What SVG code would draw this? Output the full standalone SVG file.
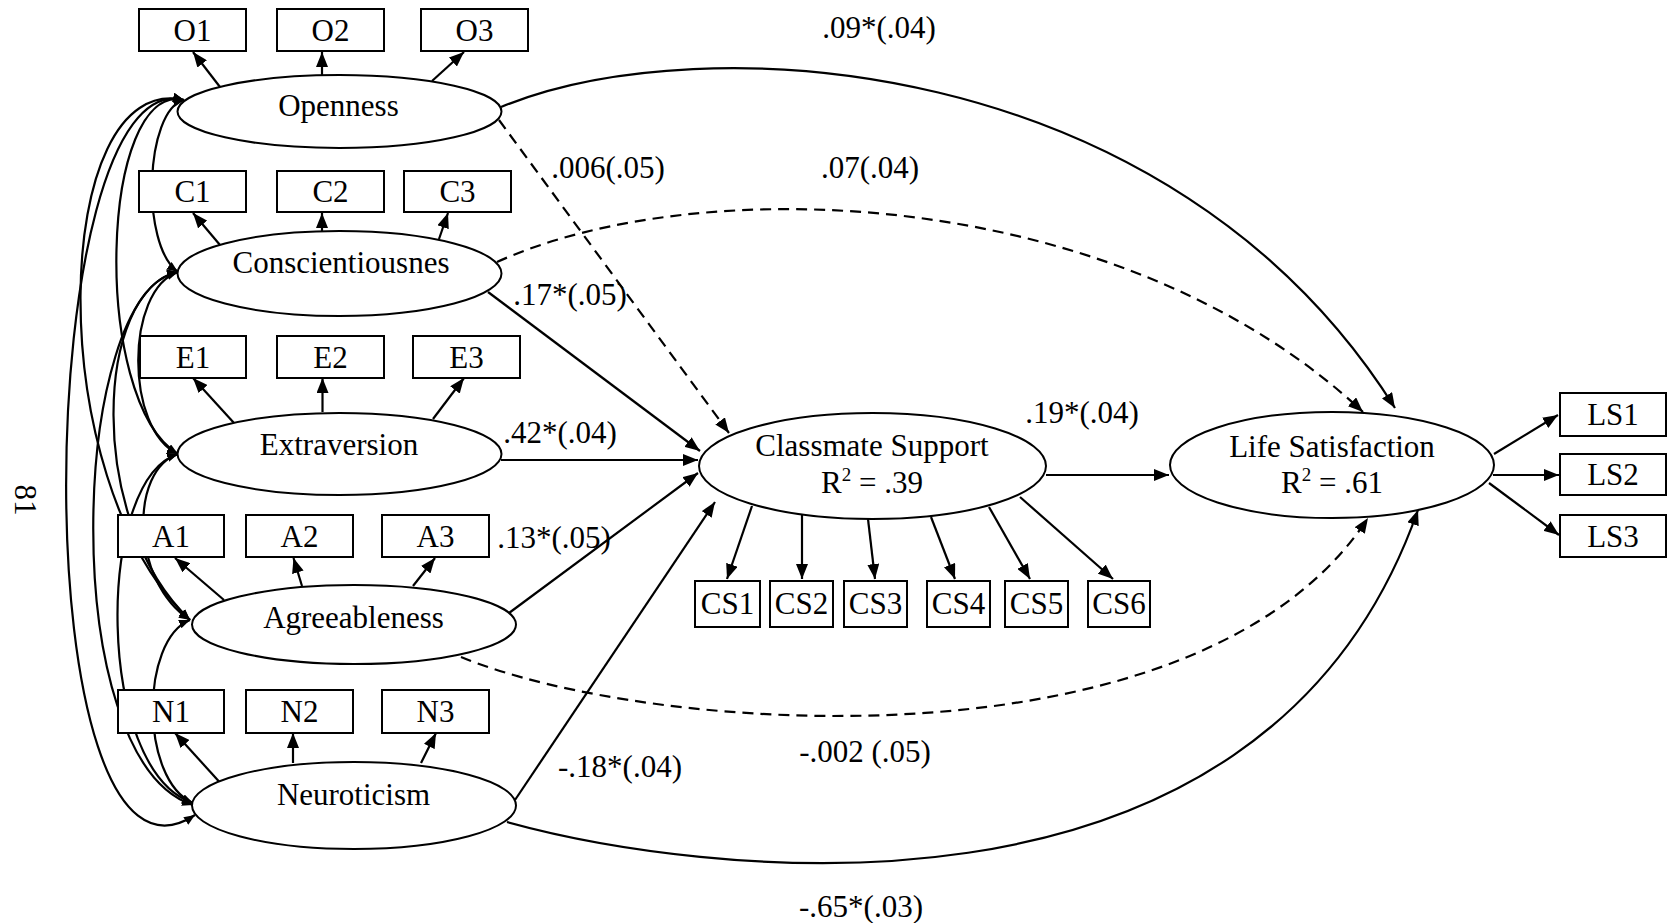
<svg xmlns="http://www.w3.org/2000/svg" width="1667" height="923" viewBox="0 0 1667 923">
<style>
text{font-family:"Liberation Serif","Times New Roman",serif;font-size:31px;fill:#000;text-anchor:middle}
.box{fill:#fff;stroke:#000;stroke-width:2}
.lat{fill:#fff;stroke:#000;stroke-width:2}
.c{fill:none;stroke:#000;stroke-width:2.2}
.d{stroke-dasharray:11 7}
.ar{marker-end:url(#ah)}
.cor{fill:none;stroke:#000;stroke-width:2.2;marker-start:url(#sh);marker-end:url(#sh)}
.sup{font-size:19px}
</style>
<defs>
<marker id="ah" markerUnits="userSpaceOnUse" markerWidth="16" markerHeight="12" refX="15" refY="6" orient="auto"><path d="M0,0 L15,6 L0,12 z" fill="#000" stroke="none"/></marker>
<marker id="sh" markerUnits="userSpaceOnUse" markerWidth="12" markerHeight="10" refX="11" refY="4.5" orient="auto-start-reverse"><path d="M0,0 L11,4.5 L0,9 z" fill="#000" stroke="none"/></marker>
</defs>
<rect width="1667" height="923" fill="#fff"/>
<g id="connectors">
<path class="cor" d="M184,100 C145,110 140,245 178,272"/>
<path class="cor" d="M184,100 C100,80 90,400 178,454"/>
<path class="cor" d="M184,100 C50,70 40,480 190,620"/>
<path class="cor" d="M184,100 C30,60 20,930 195,815"/>
<path class="cor" d="M178,272 C125,290 125,430 178,454"/>
<path class="cor" d="M178,272 C95,290 85,520 190,620"/>
<path class="cor" d="M178,272 C70,290 55,760 193,805"/>
<path class="cor" d="M178,454 C130,470 130,580 190,620"/>
<path class="cor" d="M178,454 C95,480 95,770 193,803"/>
<path class="cor" d="M190,620 C140,640 140,780 193,803"/>
<path class="c ar" d="M220,87 L193,52"/>
<path class="c ar" d="M322,75 L322,52"/>
<path class="c ar" d="M432,81 L464,52"/>
<path class="c ar" d="M220,245 L193,213"/>
<path class="c ar" d="M322,232 L322,213"/>
<path class="c ar" d="M439,239 L448,213"/>
<path class="c ar" d="M234,423 L193,378"/>
<path class="c ar" d="M322.5,412 L322.5,378"/>
<path class="c ar" d="M433,419 L464,378"/>
<path class="c ar" d="M224,600 L175,558"/>
<path class="c ar" d="M302,586 L293.5,558"/>
<path class="c ar" d="M413,586 L435,558"/>
<path class="c ar" d="M224,787 L175,733"/>
<path class="c ar" d="M293,763 L293,733"/>
<path class="c ar" d="M421,763 L436,733"/>
<path class="c ar" d="M752,506 L727,579"/>
<path class="c ar" d="M802,515 L802,579"/>
<path class="c ar" d="M868,519 L875,579"/>
<path class="c ar" d="M931,517 L955,579"/>
<path class="c ar" d="M989,507 L1030,579"/>
<path class="c ar" d="M1020,497 L1113,579"/>
<path class="c ar" d="M1494,454 L1558,415"/>
<path class="c ar" d="M1493,475 L1559,475"/>
<path class="c ar" d="M1489,483 L1559,535"/>
<path class="c ar" d="M1046,475 L1169,475"/>
<path class="c d ar" d="M499,120 L729,433"/>
<path class="c ar" d="M488,292 L700,451"/>
<path class="c ar" d="M501,460 L698,460"/>
<path class="c ar" d="M509,613 L698,473"/>
<path class="c ar" d="M515,800 L715,502"/>
<path class="c ar" d="M501,107 C700,25 1170,50 1395,408"/>
<path class="c d ar" d="M497,262 C700,170 1120,185 1363,412"/>
<path class="c d ar" d="M461,657 C650,735 1200,775 1368,518"/>
<path class="c ar" d="M507,822 C680,870 1260,960 1418,510"/>
</g>
<g id="labels">
<text x="879" y="38">.09*(.04)</text>
<text x="608" y="178">.006(.05)</text>
<text x="870" y="178">.07(.04)</text>
<text x="570" y="305">.17*(.05)</text>
<text x="560" y="443">.42*(.04)</text>
<text x="554" y="548">.13*(.05)</text>
<text x="1082" y="423">.19*(.04)</text>
<text x="865" y="762">-.002 (.05)</text>
<text x="620" y="777">-.18*(.04)</text>
<text x="861" y="917">-.65*(.03)</text>
<text transform="translate(15,500) rotate(90)">81</text>
</g>
<g id="Openness"><ellipse class="lat" cx="339.5" cy="111.5" rx="162" ry="36.5"/><text x="338.5" y="116">Openness</text></g>
<g id="Conscientiousness"><ellipse class="lat" cx="339.5" cy="273.5" rx="162" ry="42.5"/><text x="341" y="273">Conscientiousnes</text></g>
<g id="Extraversion"><ellipse class="lat" cx="339.5" cy="454" rx="162" ry="41"/><text x="339" y="455">Extraversion</text></g>
<g id="Agreeableness"><ellipse class="lat" cx="354" cy="624.5" rx="162" ry="39.5"/><text x="353.5" y="628">Agreeableness</text></g>
<g id="Neuroticism"><ellipse class="lat" cx="354" cy="805.5" rx="162" ry="43.5"/><text x="353.5" y="805">Neuroticism</text></g>
<g id="ClassmateSupport"><ellipse class="lat" cx="872.5" cy="466" rx="173.5" ry="53"/><text x="872" y="456">Classmate Support</text><text x="872" y="493">R<tspan class="sup" dy="-12">2</tspan><tspan dy="12"> = .39</tspan></text></g>
<g id="LifeSatisfaction"><ellipse class="lat" cx="1332" cy="465" rx="162" ry="53"/><text x="1332" y="457">Life Satisfaction</text><text x="1332" y="493">R<tspan class="sup" dy="-12">2</tspan><tspan dy="12"> = .61</tspan></text></g>
<g id="O1"><rect class="box" x="139" y="9" width="107" height="42"/><text x="192.5" y="40.5">O1</text></g>
<g id="O2"><rect class="box" x="277" y="9" width="107" height="42"/><text x="330.5" y="40.5">O2</text></g>
<g id="O3"><rect class="box" x="421" y="9" width="107" height="42"/><text x="474.5" y="40.5">O3</text></g>
<g id="C1"><rect class="box" x="139" y="171" width="107" height="41"/><text x="192.5" y="202">C1</text></g>
<g id="C2"><rect class="box" x="277" y="171" width="107" height="41"/><text x="330.5" y="202">C2</text></g>
<g id="C3"><rect class="box" x="404" y="171" width="107" height="41"/><text x="457.5" y="202">C3</text></g>
<g id="E1"><rect class="box" x="140" y="336" width="106" height="42"/><text x="193" y="367.5">E1</text></g>
<g id="E2"><rect class="box" x="277" y="336" width="107" height="42"/><text x="330.5" y="367.5">E2</text></g>
<g id="E3"><rect class="box" x="413" y="336" width="107" height="42"/><text x="466.5" y="367.5">E3</text></g>
<g id="A1"><rect class="box" x="118" y="515" width="106" height="42"/><text x="171" y="546.5">A1</text></g>
<g id="A2"><rect class="box" x="246" y="515" width="107" height="42"/><text x="299.5" y="546.5">A2</text></g>
<g id="A3"><rect class="box" x="382" y="515" width="107" height="42"/><text x="435.5" y="546.5">A3</text></g>
<g id="N1"><rect class="box" x="118" y="690" width="106" height="43"/><text x="171" y="722">N1</text></g>
<g id="N2"><rect class="box" x="246" y="690" width="107" height="43"/><text x="299.5" y="722">N2</text></g>
<g id="N3"><rect class="box" x="382" y="690" width="107" height="43"/><text x="435.5" y="722">N3</text></g>
<g id="CS1"><rect class="box" x="695" y="581" width="65" height="46"/><text x="727.5" y="614">CS1</text></g>
<g id="CS2"><rect class="box" x="770" y="581" width="63" height="46"/><text x="801.5" y="614">CS2</text></g>
<g id="CS3"><rect class="box" x="844" y="581" width="63" height="46"/><text x="875.5" y="614">CS3</text></g>
<g id="CS4"><rect class="box" x="927" y="581" width="63" height="46"/><text x="958.5" y="614">CS4</text></g>
<g id="CS5"><rect class="box" x="1005" y="581" width="63" height="46"/><text x="1036.5" y="614">CS5</text></g>
<g id="CS6"><rect class="box" x="1088" y="581" width="62" height="46"/><text x="1119" y="614">CS6</text></g>
<g id="LS1"><rect class="box" x="1560" y="393" width="106" height="43"/><text x="1613" y="425">LS1</text></g>
<g id="LS2"><rect class="box" x="1560" y="454" width="106" height="41"/><text x="1613" y="485">LS2</text></g>
<g id="LS3"><rect class="box" x="1560" y="515" width="106" height="42"/><text x="1613" y="546.5">LS3</text></g>
</svg>
